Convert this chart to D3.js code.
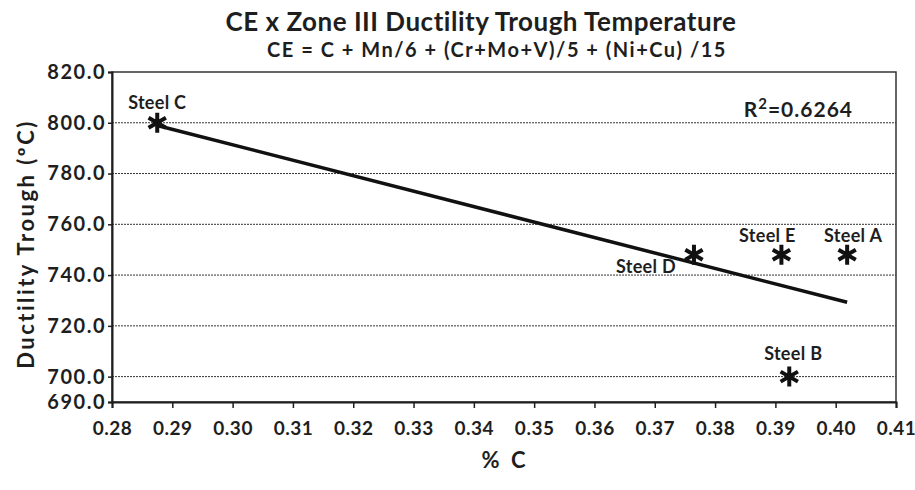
<!DOCTYPE html>
<html>
<head>
<meta charset="utf-8">
<script src="https://cdn.jsdelivr.net/npm/d3@7"></script>
<style>
  body { margin: 0; background: #fff; }
  svg { display: block; }
</style>
</head>
<body>
<div id="chart"></div>
<script>
// CE x Zone III ductility trough temperature - scatter with linear trend

// data
const steels = ["Steel C", "Steel D", "Steel E", "Steel A", "Steel B"];
const carbon = [0.2875, 0.3765, 0.3910, 0.4019, 0.3923];
const trough = [800, 748, 748, 748, 700];
const xTicks = [0.28, 0.29, 0.30, 0.31, 0.32, 0.33, 0.34, 0.35, 0.36, 0.37, 0.38, 0.39, 0.40, 0.41];
const yTicks = [690, 700, 720, 740, 760, 780, 800, 820];
const rSquared = "0.6264";

const w = 915, h = 490;
const margin = {top: 72, right: 19, bottom: 88, left: 112};
const fontFamily = "Lato, 'Open Sans', sans-serif";
const ink = "#1e1e1e";

const data = steels.map((s, i) => ({name: s, x: carbon[i], y: trough[i]}));

// scales
const x = d3.scaleLinear()
            .domain([0.28, 0.41])
            .range([margin.left, w - margin.right]);

const y = d3.scaleLinear()
            .domain([690, 820])
            .range([h - margin.bottom, margin.top]);

const svg = d3.select("#chart")
            .append("svg")
            .attr("width", w)
            .attr("height", h)
            .style("font-family", fontFamily);

// dotted gridlines (skip the frame lines)
svg.append("g")
  .selectAll("line")
  .data(yTicks.filter(t => t > 690 && t < 820))
  .join("line")
    .attr("x1", margin.left)
    .attr("x2", w - margin.right)
    .attr("y1", d => y(d))
    .attr("y2", d => y(d))
    .attr("stroke", "#333")
    .attr("stroke-width", 1)
    .attr("stroke-dasharray", "2,1");

// plot frame
svg.append("rect")
  .attr("x", margin.left)
  .attr("y", margin.top)
  .attr("width", w - margin.left - margin.right)
  .attr("height", h - margin.top - margin.bottom)
  .attr("fill", "none")
  .attr("stroke", "#333")
  .attr("stroke-width", 1.5);

// axes
const xAxis = svg.append("g")
  .attr("transform", `translate(0,${h - margin.bottom})`)
  .call(d3.axisBottom(x).tickValues(xTicks).tickFormat(d3.format(".2f")).tickSize(6).tickPadding(14))
  .call(g => g.select(".domain").attr("stroke", ink).attr("stroke-width", 2))
  .call(g => g.selectAll(".tick line").attr("stroke", ink).attr("stroke-width", 1.5))
  .call(g => g.selectAll(".tick text")
      .attr("font-family", fontFamily)
      .attr("font-size", 19)
      .attr("font-weight", "bold")
      .attr("letter-spacing", 0.5)
      .attr("fill", ink));

const yAxis = svg.append("g")
  .attr("transform", `translate(${margin.left},0)`)
  .call(d3.axisLeft(y).tickValues(yTicks).tickFormat(d3.format(".1f")).tickSize(4).tickPadding(2))
  .call(g => g.select(".domain").attr("stroke", ink).attr("stroke-width", 2))
  .call(g => g.selectAll(".tick line").attr("stroke", ink).attr("stroke-width", 1.5))
  .call(g => g.selectAll(".tick text")
      .attr("font-family", fontFamily)
      .attr("font-size", 20)
      .attr("font-weight", "bold")
      .attr("letter-spacing", 1.5)
      .attr("fill", ink));

// linear trend line fitted to the points
const mx = d3.mean(data, d => d.x), my = d3.mean(data, d => d.y);
const slope = d3.sum(data, d => (d.x - mx) * (d.y - my)) / d3.sum(data, d => (d.x - mx) ** 2);
const fit = xv => my + slope * (xv - mx);
const xExt = d3.extent(data, d => d.x);

svg.append("line")
  .attr("x1", x(xExt[0]))
  .attr("y1", y(fit(xExt[0])))
  .attr("x2", x(xExt[1]))
  .attr("y2", y(fit(xExt[1])))
  .attr("stroke", "#111")
  .attr("stroke-width", 3.5);

// asterisk markers
const star = function(r) {
  const p = d3.path();
  [90, 30, 150].forEach(a => {
    const rad = a * Math.PI / 180;
    p.moveTo(-r * Math.cos(rad), -r * Math.sin(rad));
    p.lineTo(r * Math.cos(rad), r * Math.sin(rad));
  });
  return p.toString();
};

svg.append("g")
  .selectAll("path")
  .data(data)
  .join("path")
    .attr("d", star(10))
    .attr("transform", d => `translate(${x(d.x)},${y(d.y)})`)
    .attr("fill", "none")
    .attr("stroke", "#111")
    .attr("stroke-width", 4);

// data labels
const labelPos = {
  "Steel C": {dx: 0, dy: -14, anchor: "middle"},
  "Steel D": {dx: -18, dy: 18, anchor: "end"},
  "Steel E": {dx: -14, dy: -13, anchor: "middle"},
  "Steel A": {dx: 6, dy: -13, anchor: "middle"},
  "Steel B": {dx: 4, dy: -17, anchor: "middle"}
};

svg.append("g")
  .selectAll("text")
  .data(data)
  .join("text")
    .attr("x", d => x(d.x) + labelPos[d.name].dx)
    .attr("y", d => y(d.y) + labelPos[d.name].dy)
    .attr("text-anchor", d => labelPos[d.name].anchor)
    .attr("font-size", 18)
    .attr("font-weight", "bold")
    .attr("letter-spacing", 0.3)
    .attr("fill", ink)
    .text(d => d.name);

// R squared label
const r2 = svg.append("text")
  .attr("x", 853)
  .attr("y", 117)
  .attr("text-anchor", "end")
  .attr("font-size", 21)
  .attr("font-weight", "bold")
  .attr("letter-spacing", 1)
  .attr("fill", ink);
r2.append("tspan").text("R");
r2.append("tspan").attr("font-size", 15).attr("dy", -8).text("2");
r2.append("tspan").attr("dy", 8).text("=" + rSquared);

// titles
svg.append("text")
  .attr("x", 481)
  .attr("y", 31)
  .attr("text-anchor", "middle")
  .attr("font-size", 26)
  .attr("font-weight", "bold")
  .attr("letter-spacing", 0.5)
  .attr("fill", ink)
  .text("CE x Zone III Ductility Trough Temperature");

svg.append("text")
  .attr("x", 497)
  .attr("y", 57)
  .attr("text-anchor", "middle")
  .attr("font-size", 20)
  .attr("font-weight", "bold")
  .attr("letter-spacing", 1.5)
  .attr("fill", ink)
  .text("CE = C + Mn/6 + (Cr+Mo+V)/5 + (Ni+Cu) /15");

// axis titles
svg.append("text")
  .attr("transform", "rotate(-90)")
  .attr("x", -244)
  .attr("y", 34)
  .attr("text-anchor", "middle")
  .attr("font-size", 22)
  .attr("font-weight", "bold")
  .attr("letter-spacing", 2.5)
  .attr("fill", ink)
  .text("Ductility Trough (ºC)");

svg.append("text")
  .attr("x", 505)
  .attr("y", 468)
  .attr("text-anchor", "middle")
  .attr("font-size", 22)
  .attr("font-weight", "bold")
  .attr("letter-spacing", 3)
  .attr("fill", ink)
  .text("% C");
</script>
</body>
</html>
